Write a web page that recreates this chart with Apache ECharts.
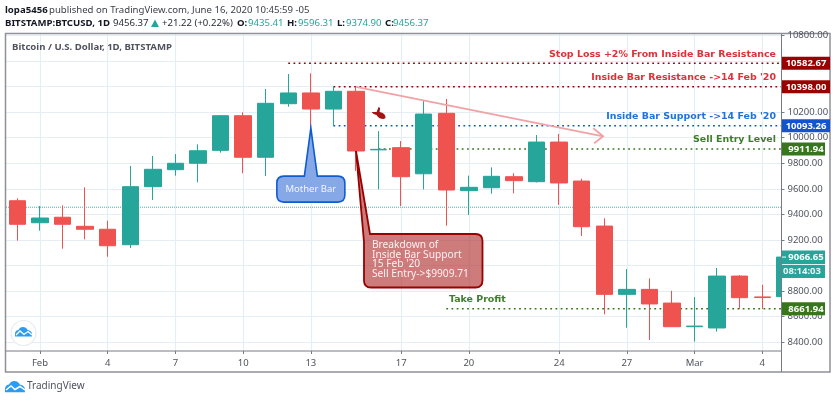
<!DOCTYPE html>
<html><head><meta charset="utf-8">
<style>html,body{margin:0;padding:0;background:#fff}#c{width:835px;height:401px}</style>
<script src="https://cdn.jsdelivr.net/npm/echarts@6/dist/echarts.min.js"></script>
</head><body><div id="c"></div>
<script>
// --- data ---
const days = ['Jan 31','Feb 1','Feb 2','Feb 3','Feb 4','Feb 5','Feb 6','Feb 7','Feb 8','Feb 9','Feb 10','Feb 11','Feb 12','Feb 13','Feb 14','Feb 15','Feb 16','Feb 17','Feb 18','Feb 19','Feb 20','Feb 21','Feb 22','Feb 23','Feb 24','Feb 25','Feb 26','Feb 27','Feb 28','Feb 29','Mar 1','Mar 2','Mar 3','Mar 4','Mar 5'];
const opens  = [9507,9335,9378,9307,9284,9163,9617,9750,9800,9901,10172,9847,10266,10350,10224,10363,9905,9922,9718,10191,9586,9609,9695,9656,9966,9661,9309,8775,8814,8707,8522,8512,8918,8755,8757];
const closes = [9323,9372,9323,9284,9155,9617,9753,9800,9898,10172,9847,10269,10350,10224,10363,9896,9909,9695,10185,9591,9612,9698,9664,9966,9646,9304,8775,8814,8700,8522,8527,8918,8749,8750,9066.65];
const highs  = [9526,9466,9471,9612,9351,9779,9857,9872,9948,10177,10199,10381,10498,10503,10404,10398,10052,9974,10289,10303,9703,9768,9722,10021,10029,9679,9370,8973,8900,8803,8754,8981,8926,8850,9066.65];
const lows   = [9195,9273,9132,9205,9069,9137,9513,9703,9651,9883,9722,9700,10242,10075,10091,9740,9596,9466,9596,9312,9395,9562,9565,9650,9474,9231,8619,8514,8418,8522,8405,8483,8660,8660,8757];
const xTickDays   = [1,4,7,10,13,17,20,24,27,30,33];
const xTickLabels = ['Feb','4','7','10','13','17','20','24','27','Mar','4'];
const yTicks = [8400,8600,8800,9000,9200,9400,9600,9800,10000,10200,10400,10600,10800];
const levelPrices = [10582.67,10398,10093.26,9911.94,8661.94];
const levelStarts = [12,14,14,16,19];
const levelTexts  = ['Stop Loss +2% From Inside Bar Resistance',"Inside Bar Resistance ->14 Feb '20","Inside Bar Support ->14 Feb '20",'Sell Entry Level','Take Profit'];
const currentPrice = 9456.37;
const lastClose = 9066.65;
const countdown = '08:14:03';
const arrowFrom = [15,10398];
const arrowTo = [25.95,10011];
const motherBarTip = [13,10075];
const breakdownTip = [15,9896];
const pinAt = [16,10193];
const breakdownLines = ['Breakdown of','Inside Bar Support',"15 Feb '20",'Sell Entry->$9909.71'];

// --- styles ---
const UP='#26a69a',DOWN='#ef5350',FONT='"Noto Sans",sans-serif',AX='#50535e',HF='9.6px ',HB='bold 9.6px ';
const LBL='bold 9.45px "DejaVu Sans",sans-serif';
const levelColors=['#990000','#990000','#1155cc','#38761d','#38761d'];
const textColors=['#de3138','#de3138','#2272dc','#3f7d2c','#3f7d2c'];
const tagRight=[830,830,830,825,825];

const txt=(x,y,text,fill,font,align)=>({type:'text',x,y,style:{text,fill,font,textAlign:align||'left',textVerticalAlign:'middle'}});
const chart=echarts.init(document.getElementById('c'),null,{renderer:'canvas'});
const cloud=(x,y,s)=>`M${x} ${y+7*s}Q${x+1*s} ${y+3.5*s} ${x+4*s} ${y+3.5*s}Q${x+5.5*s} ${y} ${x+9*s} ${y}Q${x+13*s} ${y} ${x+14.5*s} ${y+3.5*s}Q${x+19*s} ${y+4*s} ${x+19.5*s} ${y+8*s}L${x+19.5*s} ${y+11*s}H${x}Z`;
const bgGraphics=[
  txt(5,10,'lopa5456','#131722',HB+FONT),
  txt(49,10,'published on TradingView.com, June 16, 2020 10:45:59 -05','#3a3e4a',HF+FONT),
  txt(5,23,'BITSTAMP:BTCUSD, 1D','#131722',HB+FONT),
  txt(113,23,'9456.37','#2a2e39',HF+FONT),
  {type:'polygon',shape:{points:[[151,27],[159,27],[155,19.5]]},style:{fill:UP}},
  txt(162,23,'+21.22 (+0.22%)','#2a2e39',HF+FONT),
  txt(237,23,'O:','#131722',HB+FONT),
  txt(248,23,'9435.41',UP,HF+FONT),
  txt(287,23,'H:','#131722',HB+FONT),
  txt(298,23,'9596.31',UP,HF+FONT),
  txt(337,23,'L:','#131722',HB+FONT),
  txt(346,23,'9374.90',UP,HF+FONT),
  txt(385,23,'C:','#131722',HB+FONT),
  txt(393,23,'9456.37',UP,HF+FONT),
  txt(12,47,'Bitcoin / U.S. Dollar, 1D, BITSTAMP','#50535e','bold 9.6px '+FONT),
  {type:'rect',z:5,shape:{x:782,y:34,width:48,height:317},style:{fill:'#fff'}},
  {type:'rect',z:6,shape:{x:5.5,y:33.5,width:824.5,height:338.5},style:{fill:null,stroke:'#8f9198',lineWidth:1.5}},
  {type:'line',z:6,shape:{x1:781.5,y1:34,x2:781.5,y2:372},style:{stroke:'#787b86',lineWidth:1}},
  {type:'line',z:6,shape:{x1:6,y1:351,x2:781.5,y2:351},style:{stroke:'#787b86',lineWidth:1}},
  txt(27,386.5,'TradingView','#50535e','10px '+FONT)
];

chart.setOption({
  animation:false,
  graphic:{elements:bgGraphics.map(g=>Object.assign({silent:true,z:8},g))},
  grid:{left:6,right:835-781.5,top:34,bottom:401-351,containLabel:false},
  xAxis:{type:'value',min:-0.505,max:33.85,
    axisLine:{show:false,onZero:false},
    axisTick:{show:true,length:3,customValues:xTickDays,lineStyle:{color:'#787b86'}},
    axisLabel:{customValues:xTickDays,margin:7,color:AX,fontFamily:FONT,fontSize:9.5,showMinLabel:true,showMaxLabel:true,
      formatter:v=>xTickLabels[xTickDays.indexOf(v)]||''},
    splitLine:{show:true,lineStyle:{color:'#e6eef5',width:1.2}}},
  yAxis:[
   {type:'value',position:'right',min:8332,max:10811,scale:true,
    axisLine:{show:false,onZero:false},axisTick:{show:false,customValues:yTicks},
    axisLabel:{show:false,customValues:yTicks},
    splitLine:{show:true,lineStyle:{color:'#e6eef5',width:1.2}}},
   {type:'value',position:'right',min:8332,max:10811,scale:true,z:10,
    axisLine:{show:false,onZero:false},
    axisTick:{show:true,length:3,customValues:yTicks,lineStyle:{color:'#787b86'}},
    axisLabel:{customValues:yTicks,margin:6,color:AX,fontFamily:FONT,fontSize:9.5,formatter:v=>v.toFixed(2)},
    splitLine:{show:false}}],
  series:[
    {type:'custom',name:'logos',z:1,data:[[0,9000]],encode:{x:0,y:1},
     renderItem:()=>({type:'group',children:[
       {type:'circle',shape:{cx:23.5,cy:333,r:12.5},style:{fill:'#fff',stroke:'#e8ebef',lineWidth:1.2}},
       {type:'path',shape:{pathData:cloud(15,327,0.87)},style:{fill:'#2b9cf2'}},
       {type:'polyline',shape:{points:[[16,335],[20,331],[24,334.5],[28,331.5],[32,335]]},style:{stroke:'#fff',fill:null,lineWidth:1.3}},
       {type:'path',shape:{pathData:cloud(5,381,1.02)},style:{fill:'#2b9cf2'}},
       {type:'polyline',shape:{points:[[6,390],[11,386],[15,389.5],[20,386.5],[25,390]]},style:{stroke:'#fff',fill:null,lineWidth:1.5}}]})},
    {type:'custom',name:'levels',z:1,coordinateSystem:'cartesian2d',
     data:levelPrices.map((p,i)=>[levelStarts[i],p]),encode:{x:0,y:1},
     renderItem:(params,api)=>{
       const i=params.dataIndex,[x,y]=api.coord([api.value(0),api.value(1)]);
       return {type:'line',shape:{x1:x,y1:y,x2:781,y2:y},style:{stroke:levelColors[i],lineWidth:1.6,lineDash:[1.8,3.4]}};
     }},
    {type:'custom',name:'price line',z:1,data:[[-0.505,currentPrice]],encode:{x:0,y:1},
     renderItem:(params,api)=>{
       const [x,y]=api.coord([api.value(0),api.value(1)]);
       return {type:'line',shape:{x1:x,y1:y,x2:781,y2:y},style:{stroke:UP,lineWidth:1,lineDash:[1,1],opacity:.85}};
     }},
    {type:'candlestick',name:'BTCUSD',z:2,barWidth:17,
     data:days.map((d,i)=>[i,opens[i],closes[i],lows[i],highs[i]]),encode:{x:0,y:[1,2,3,4]},
     itemStyle:{color:UP,color0:DOWN,borderColor:UP,borderColor0:DOWN,borderWidth:1}},
    {type:'custom',name:'arrow',z:3,data:[[...arrowFrom,...arrowTo]],encode:{x:[0,2],y:[1,3]},
     renderItem:(params,api)=>{
       const a=api.coord([api.value(0),api.value(1)]),b=api.coord([api.value(2),api.value(3)]);
       const st={stroke:'#f0a3a6',fill:null,lineWidth:1.8};
       return {type:'group',children:[
        {type:'line',shape:{x1:a[0],y1:a[1],x2:b[0],y2:b[1]},style:st},
        {type:'polyline',shape:{points:[[b[0]-10,b[1]-8],[b[0],b[1]],[b[0]-9,b[1]+7]]},style:st}]};
     }},
    {type:'custom',name:'mother bar',z:4,data:[motherBarTip],encode:{x:0,y:1},
     renderItem:(params,api)=>{
       const [x,y]=api.coord([api.value(0),api.value(1)]);
       const l=x-34,t=y+48,w=68,h=26,r=7;
       const p=`M${x} ${y}L${x+6.5} ${t}H${l+w-r}Q${l+w} ${t} ${l+w} ${t+r}V${t+h-r}Q${l+w} ${t+h} ${l+w-r} ${t+h}H${l+r}Q${l} ${t+h} ${l} ${t+h-r}V${t+r}Q${l} ${t} ${l+r} ${t}H${x-6.5}Z`;
       return {type:'group',children:[
        {type:'path',shape:{pathData:p},style:{fill:'#86a8e7',stroke:'#0f5bd0',lineWidth:1.6}},
        txt(x,t+13.5,'Mother Bar','#f2f5fc','9.5px '+FONT,'center')]};
     }},
    {type:'custom',name:'breakdown',z:4,data:[breakdownTip],encode:{x:0,y:1},
     renderItem:(params,api)=>{
       const [x,y]=api.coord([api.value(0),api.value(1)]);
       const l=x+8,t=y+83,w=118.5,h=53.5,r=7;
       const p=`M${x} ${y}L${x+14} ${t}H${l+w-r}Q${l+w} ${t} ${l+w} ${t+r}V${t+h-r}Q${l+w} ${t+h} ${l+w-r} ${t+h}H${l+r}Q${l} ${t+h} ${l} ${t+h-r}V${t+8}Z`;
       const kids=[{type:'path',shape:{pathData:p},style:{fill:'rgba(176,48,48,.64)',stroke:'#990000',lineWidth:1.8}}];
       breakdownLines.forEach((s,i)=>kids.push(txt(l+8,t+11.5+i*9.4,s,'#fdf1f1','10.2px '+FONT)));
       return {type:'group',children:kids};
     }},
    {type:'custom',name:'pin',z:4,data:[pinAt],encode:{x:0,y:1},
     renderItem:(params,api)=>{
       const [x,y]=api.coord([api.value(0),api.value(1)]);
       return {type:'path',shape:{pathData:`M${x-7} ${y-1}L${x-2} ${y-1}L${x} ${y-6}L${x+1.5} ${y-5}L${x+1} ${y-1}Q${x+7} ${y} ${x+7} ${y+5}L${x+5} ${y+6}Q${x} ${y+6} ${x-2} ${y+2}Q${x-5} ${y+2} ${x-7} ${y-1}Z`},style:{fill:'#a51212'}};
     }},
    {type:'custom',name:'level tags',z:12,data:levelPrices.map((p,i)=>[levelStarts[i],p]),encode:{x:0,y:1},
     renderItem:(params,api)=>{
       const i=params.dataIndex,y=api.coord([0,api.value(1)])[1];
       const kids=[
         {type:'rect',shape:{x:782,y:y-6.5,width:tagRight[i]-782,height:13},style:{fill:levelColors[i]}},
         txt(806,y+.5,levelPrices[i].toFixed(2),'#fff','bold 9.5px '+FONT,'center')];
       if(i<4) kids.push(txt(776,y-9,levelTexts[i],textColors[i],LBL,'right'));
       else kids.push(txt(449,y-9,levelTexts[i],textColors[i],LBL));
       return {type:'group',children:kids};
     }},
    {type:'custom',name:'last price tag',z:12,data:[[33.85,lastClose]],encode:{x:0,y:1},
     renderItem:(params,api)=>{
       const y=api.coord([0,api.value(1)])[1];
       return {type:'group',children:[
         {type:'rect',shape:{x:782,y:y-6.5,width:43,height:27.5},style:{fill:UP}},
         {type:'rect',shape:{x:782,y:y+7,width:43,height:1},style:{fill:'#dff3f1'}},
         {type:'rect',shape:{x:782,y:y-0.5,width:4,height:1},style:{fill:'#fff'}},
         txt(806,y+.5,lastClose.toFixed(2),'#fff','bold 9.5px '+FONT,'center'),
         txt(802,y+14.5,countdown,'#e6f6f4','bold 9.5px '+FONT,'center')]};
     }}
  ]
});
</script></body></html>
